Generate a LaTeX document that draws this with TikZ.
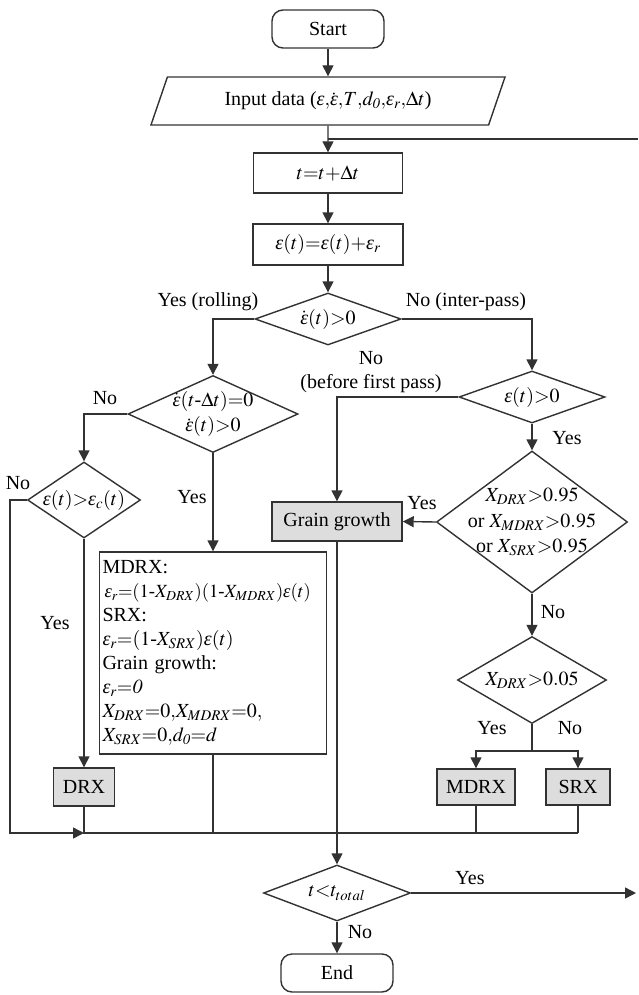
\documentclass[tikz,border=0pt]{standalone}
\usepackage{mathptmx}
\usepackage{fontspec}
\setmainfont{Liberation Serif}
\usetikzlibrary{shapes.geometric, arrows.meta, positioning}
\definecolor{fcline}{RGB}{50,50,50}
\definecolor{fcfill}{RGB}{221,221,221}
\newcommand{\fcfont}{\fontsize{20}{24}\selectfont}
\newcommand{\epsi}{\mbox{\itshape ε}}
\tikzset{
  startstop/.style = {rectangle, rounded corners=11pt, draw=fcline, line width=1.4pt,
                      minimum width=112pt, minimum height=38pt, font=\fcfont, inner sep=2pt},
  inputbox/.style  = {trapezium, trapezium left angle=64, trapezium right angle=116,
                      trapezium stretches=true, draw=fcline, line width=1.4pt,
                      minimum width=355pt, minimum height=48pt, font=\fcfont, inner sep=2pt},
  process/.style   = {rectangle, draw=fcline, line width=1.4pt, font=\fcfont, inner sep=2pt},
  modelbox/.style  = {rectangle, draw=fcline, line width=1.4pt, fill=fcfill,
                      font=\fcfont, inner sep=2pt},
  decision/.style  = {diamond, draw=fcline, line width=1.4pt, inner sep=0pt},
  dlab/.style      = {font=\fontsize{20}{25.5}\selectfont, align=center, inner sep=0pt},
  flowlab/.style   = {font=\fcfont, align=center, inner sep=0pt},
  line/.style      = {line width=1.4pt, draw=fcline},
  flow/.style      = {-{Triangle[length=11pt, width=11pt]}, line width=1.4pt, draw=fcline},
}

\begin{document}
\begin{tikzpicture}[x=1pt, y=-1pt]
  \useasboundingbox (0,0) rectangle (638,995);

  \node[startstop] (start) at (328,29) {Start};
  \node[inputbox] (input) at (328,101)
    {Input data ($\epsi{,}\dot{\epsi}{,}T{,}d_{\mathit{0}}{,}\epsi_r{,}\Delta t$)};
  \node[process, minimum width=149pt, minimum height=40pt] (tstep) at (328,173)
    {$t{=}t{+}\Delta t$};
  \node[process, minimum width=150pt, minimum height=41pt] (estep) at (328,244.5)
    {$\epsi(t){=}\epsi(t){+}\epsi_r$};

  \node[decision, minimum width=146pt, minimum height=52pt,
        label={[dlab]center:$\dot{\epsi}(t){>}0$}] (rate) at (328,319) {};
  \node[decision, minimum width=170pt, minimum height=77pt,
        label={[dlab]center:$\dot{\epsi}(t\mbox{-}\Delta t){=}0$\\$\dot{\epsi}(t){>}0$}] (first) at (213,414) {};
  \node[decision, minimum width=146pt, minimum height=52pt,
        label={[dlab]center:$\epsi(t){>}0$}] (strain) at (532,397) {};
  \node[decision, minimum width=113pt, minimum height=76pt,
        label={[dlab]center:$\epsi(t){>}\epsi_c(t)$}] (crit) at (84,500) {};
  \node[decision, minimum width=191pt, minimum height=142pt,
        label={[dlab]center:$X_{DRX}{>}0.95$\\or $X_{MDRX}{>}0.95$\\or $X_{SRX}{>}0.95$}] (full) at (532,522) {};
  \node[decision, minimum width=149pt, minimum height=87pt,
        label={[dlab]center:$X_{DRX}{>}0.05$}] (part) at (532,680) {};
  \node[decision, minimum width=147pt, minimum height=56pt,
        label={[dlab]center:$t{<}t_{total}$}] (tcheck) at (337,893) {};

  \node[modelbox, minimum width=130pt, minimum height=39pt] (gg) at (337,521.5) {Grain growth};
  \node[process, minimum width=227pt, minimum height=202pt, text width=221pt,
        align=left, inner sep=3pt] (upd) at (213,653)
    {MDRX:\\
     {\fontsize{18.6}{24}\selectfont\hspace*{2pt}$\epsi_r{=}(1\mbox{-}X_{DRX})(1\mbox{-}X_{MDRX})\epsi(t)$}\\
     SRX:\\
     $\epsi_r{=}(1\mbox{-}X_{SRX})\epsi(t)$\\
     Grain growth:\\
     $\epsi_r{=}\mathit{0}$\\
     $X_{DRX}{=}0{,}X_{MDRX}{=}0{,}$\\
     $X_{SRX}{=}0{,}d_{\mathit{0}}{=}d$};
  \node[modelbox, minimum width=61pt, minimum height=38pt] (drx) at (84,787) {DRX};
  \node[modelbox, minimum width=78pt, minimum height=36pt] (mdrx) at (476,787) {MDRX};
  \node[modelbox, minimum width=64pt, minimum height=36pt] (srx) at (578,787) {SRX};
  \node[startstop] (end) at (337,973) {End};

  \coordinate (loopR) at (638,139);
  \coordinate (exitR) at (636,893);
  \coordinate (lftc) at (10,833);
  \coordinate (jdrx) at (84,833);
  \coordinate (jsrx) at (578,833);
  \coordinate (split) at (532,751);

  \draw[flow] (start) -- (input);
  \draw[flow] (input) -- (tstep);
  \draw[line] (loopR) -- (loopR -| tstep.north);
  \draw[flow] (tstep) -- (estep);
  \draw[flow] (estep) -- (rate);
  \draw[flow] (rate.west) -| (first.north);
  \draw[flow] (rate.east) -| (strain.north);
  \draw[flow] (first.west) -| (crit.north);
  \draw[flow] (first.south) -- (upd.north);
  \draw[flow] (crit.south) -- (drx.north);
  \draw[flow] (crit.west) -| (lftc) -- (jdrx);
  \draw[flow] (strain.west) -| (gg.north);
  \draw[flow] (strain.south) -- (full.north);
  \draw[flow] (full.west) -- (gg.east);
  \draw[flow] (full.south) -- (part.north);
  \draw[line] (part.south) -- (split);
  \draw[flow] (split) -| (mdrx.north);
  \draw[flow] (split) -| (srx.north);
  \draw[line] (drx.south) -- (jdrx) -- (jsrx);
  \draw[line] (upd.south) -- (upd.south |- jdrx);
  \draw[line] (mdrx.south) -- (mdrx.south |- jdrx);
  \draw[line] (srx.south) -- (jsrx);
  \draw[flow] (gg.south) -- (gg.south |- tcheck.north);
  \draw[flow] (tcheck.east) -- (exitR);
  \draw[flow] (tcheck.south) -- (end.north);

  \node[flowlab] (lroll) at (208,302) {Yes (rolling)};
  \node[flowlab] (linter) at (466,302) {No (inter-pass)};
  \node[flowlab] (lnofirst) at (105,398) {No};
  \node[flowlab] (lnocrit) at (18,483) {No};
  \node[flowlab] (lyesfirst) at (192,497) {Yes};
  \node[flowlab] (lyescrit) at (55,623) {Yes};
  \node[flowlab] (lnostrain) at (371,372) {No\\(before first pass)};
  \node[flowlab] (lyesstrain) at (567,438) {Yes};
  \node[flowlab] (lyesfull) at (422,503) {Yes};
  \node[flowlab] (lnofull) at (553,612) {No};
  \node[flowlab] (lyespart) at (492,728) {Yes};
  \node[flowlab] (lnopart) at (570,728) {No};
  \node[flowlab] (lyest) at (470,878) {Yes};
  \node[flowlab] (lnot) at (360,932) {No};
\end{tikzpicture}
\end{document}
